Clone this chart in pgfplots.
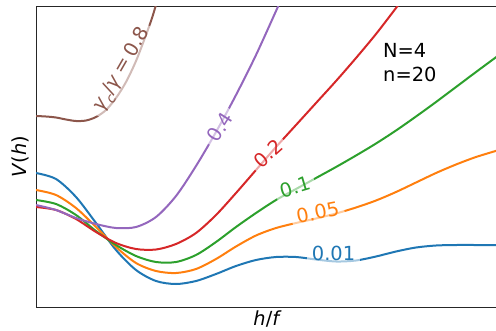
\documentclass[border=0pt]{standalone}
\usepackage{fontspec}
\setmainfont{DejaVu Sans}
\usepackage{pgfplots}
\pgfplotsset{compat=1.18}
\definecolor{tabblue}{HTML}{1F77B4}
\definecolor{taborange}{HTML}{FF7F0E}
\definecolor{tabgreen}{HTML}{2CA02C}
\definecolor{tabred}{HTML}{D62728}
\definecolor{tabpurple}{HTML}{9467BD}
\definecolor{tabbrown}{HTML}{8C564B}
\newcommand\lbl{\fontsize{19.4bp}{23.3bp}\selectfont}
\tikzset{lab/.style={fill=white,fill opacity=0.6,text opacity=1,inner xsep=5bp,inner ysep=3bp,font=\lbl}}
\begin{document}
\begin{tikzpicture}[x=1bp,y=1bp]
\begin{axis}[at={(0,0)},anchor=south west,scale only axis,
  width=463bp,height=300bp,xmin=0,xmax=463,ymin=0,ymax=300,
  xtick=\empty,ytick=\empty,
  axis line style={black!85,line width=1bp},
  xlabel={\textit{h}/\textit{f}},
  ylabel={\textit{V}(\textit{h})},
  every axis x label/.style={at={(axis cs:231.5,-18.5)},anchor=base,font=\lbl},
  every axis y label/.style={at={(axis cs:-9,150)},rotate=90,anchor=base,font=\lbl},
  every axis plot/.append style={line width=2bp,smooth,tension=0.5}]
\addplot[tabblue] coordinates {(0,134)(20,128)(40,110)(60,84)(80,57)(100,37)(120,26)(140,23)(160,26)(180,33)(200,41)(220,47)(240,50)(260,50)(280,47.5)(300,45.5)(320,46.5)(340,50.5)(360,55.5)(380,59.5)(400,61.5)(420,62)(440,62)(463,62)};
\addplot[taborange] coordinates {(0,117)(20,112)(40,99)(60,80)(80,60)(100,44)(120,36)(140,34)(160,38)(180,48)(200,60.5)(220,71.5)(240,79)(260,84)(280,88.5)(300,93.5)(320,99.5)(340,106.5)(360,115)(380,124.5)(400,134)(420,142.5)(440,150)(463,157)};
\addplot[tabgreen] coordinates {(0,107)(20,103)(40,92)(60,76)(80,62)(100,51)(120,45)(140,45)(160,52)(180,65)(200,80)(220,94)(240,107)(260,118)(280,129)(300,140)(320,151.5)(340,163.5)(360,176.5)(380,190.5)(400,205)(420,220)(440,235)(463,252)};
\addplot[tabred] coordinates {(0,100)(20,97)(40,88)(60,75)(80,64)(100,58)(120,57.5)(140,63)(160,74)(180,92)(200,114)(220,137)(240,160)(260,182)(280,204)(300,226)(320,249)(340,273)(360,299)(366,307)};
\addplot[tabpurple] coordinates {(0,102)(20,97)(40,89)(60,83)(80,79)(100,80)(120,90)(140,111)(160,141)(180,175)(200,212)(220,252)(240,296)(244,305)};
\addplot[tabbrown] coordinates {(0,191)(10,190.5)(20,189.5)(30,187.5)(40,186)(50,186.5)(60,190)(70,197)(80,209)(90,225)(100,246)(110,272)(116,289)(120,302)(122,307)};
\node[lab,text=tabblue] at (axis cs:297.5,54) {0.01};
\node[lab,text=taborange,rotate=11] at (axis cs:281.6,94.7) {0.05};
\node[lab,text=tabgreen,rotate=16.5] at (axis cs:259,120) {0.1};
\node[lab,text=tabred,rotate=42] at (axis cs:232,153.5) {0.2};
\node[lab,text=tabpurple,rotate=58] at (axis cs:184,180) {0.4};
\node[lab,text=tabbrown,rotate=60] at (axis cs:86,237) {\textit{γ}\raisebox{-0.25em}{\fontsize{13.6bp}{16bp}\selectfont\textit{c}}/\textit{γ}\hspace{0.2em}=\hspace{0.2em}0.8};
\node[anchor=base west,font=\lbl,inner sep=0pt] at (axis cs:347,250) {N=4};
\node[anchor=base west,font=\lbl,inner sep=0pt] at (axis cs:347,225.5) {n=20};
\end{axis}
\pgfresetboundingbox
\path[use as bounding box] (-36,-23) rectangle (460,307);
\end{tikzpicture}
\end{document}
